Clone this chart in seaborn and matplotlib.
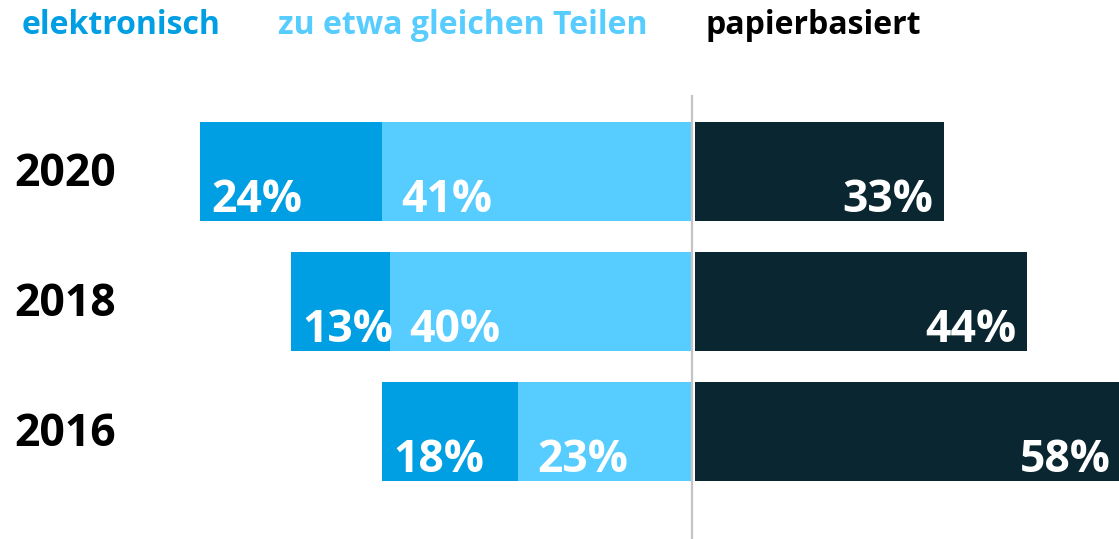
import matplotlib
matplotlib.use('Agg')
import numpy as np
import pandas as pd
import seaborn as sns
import matplotlib.pyplot as plt
import matplotlib.transforms as mtransforms

# Data
years = ['2020', '2018', '2016']
elektronisch = [24, 13, 18]
gleich = [41, 40, 23]
papier = [33, 44, 58]

c_elek = '#009FE3'
c_gleich = '#56CCFF'
c_papier = '#0A2630'

sns.set_theme(style='white')
plt.rcParams['font.family'] = ['Open Sans', 'DejaVu Sans']

df = pd.DataFrame({'Jahr': years, 'elektronisch': elektronisch,
                   'gleich': gleich, 'papier': papier})
df['links_gesamt'] = -(df['elektronisch'] + df['gleich'])
df['links_gleich'] = -df['gleich']

fig = plt.figure(figsize=(11.19, 5.39), dpi=100)
ax = fig.add_axes([0, 0, 1, 1])

bw = 0.76
sns.barplot(data=df, x='links_gesamt', y='Jahr', order=years, color=c_elek,
            saturation=1, width=bw, orient='h', ax=ax)
sns.barplot(data=df, x='links_gleich', y='Jahr', order=years, color=c_gleich,
            saturation=1, width=bw, orient='h', ax=ax)
sns.barplot(data=df, x='papier', y='Jahr', order=years, color=c_papier,
            saturation=1, width=bw, orient='h', ax=ax)
for p in ax.patches:
    p.set_edgecolor('none')
# small white gap right of zero for the dark bars
for p in ax.patches[-3:]:
    p.set_x(0.3)

ax.set_xlim(-91.5, 56.4)
ax.set_ylim(2.827, -1.319)
ax.vlines(0.0, -0.588, 2.827, color='#c4c4c4', lw=1.6, zorder=5)

ax.set_axis_off()

lbl = dict(color='white', fontsize=32, fontweight='bold', va='baseline',
           textcoords='offset points')
for i, yr in enumerate(years):
    bottom = i + bw / 2
    ax.annotate(f'{elektronisch[i]}%', xy=(df['links_gesamt'][i], bottom),
                xytext=(8, 6.5), ha='left', **lbl)
    ax.annotate(f'{gleich[i]}%', xy=(df['links_gleich'][i], bottom),
                xytext=(14, 6.5), ha='left', **lbl)
    ax.annotate(f'{papier[i]}%', xy=(min(papier[i], 56.4), bottom),
                xytext=(-6, 6.5), ha='right', **lbl)
    trans = mtransforms.blended_transform_factory(ax.transAxes, ax.transData)
    ax.text(0.0125, i + 0.02, yr, transform=trans, ha='left', va='center',
            fontsize=32, fontweight='bold', color='black')

hy = 1 - 26 / 539
fig.text(22 / 1119, hy, 'elektronisch', color=c_elek,
         fontsize=23, fontweight='bold', va='center', ha='left')
fig.text(278 / 1119, hy, 'zu etwa gleichen Teilen', color=c_gleich,
         fontsize=23, fontweight='bold', va='center', ha='left')
fig.text(706 / 1119, hy, 'papierbasiert', color='black',
         fontsize=23, fontweight='bold', va='center', ha='left')

fig.savefig('out.png', dpi=100)
